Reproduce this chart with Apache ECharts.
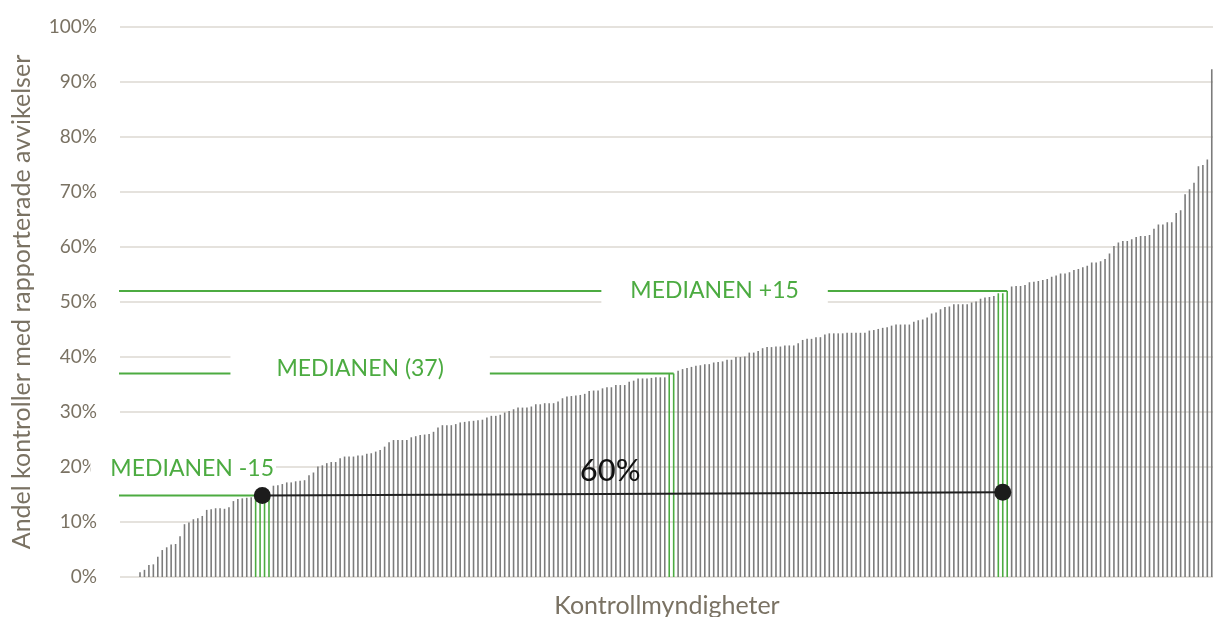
<!DOCTYPE html>
<html>
<head>
<meta charset="utf-8">
<script src="https://cdn.jsdelivr.net/npm/echarts@6/dist/echarts.min.js"></script>
<style>
  html, body { margin: 0; padding: 0; background: #fff; }
  #chart { width: 1213px; height: 617px; }
</style>
</head>
<body>
<div id="chart"></div>
<script>
// andel kontroller med avvikelser per kontrollmyndighet, sorterat stigande (%)
const shares = [
  0, 0, 0, 0,
  0.85, 1.3, 2.2, 2.3, 3.7, 4.9, 5.4, 5.9, 6.0, 7.4,
  9.6, 9.9, 10.5, 10.7, 11.1, 12.2, 12.3, 12.5, 12.5, 12.4,
  12.7, 13.8, 14.2, 14.3, 14.4, 14.5, 14.6, 14.7, 14.8, 14.9,
  16.6, 16.7, 16.9, 17.2, 17.2, 17.4, 17.5, 17.6, 18.5, 19.0,
  20.1, 20.3, 20.7, 20.9, 20.9, 21.6, 21.9, 21.9, 21.9, 22.1,
  22.1, 22.4, 22.5, 22.8, 23.1, 23.7, 24.5, 24.9, 24.9, 24.9,
  24.9, 25.4, 25.6, 25.8, 25.9, 26.0, 26.4, 27.2, 27.6, 27.6,
  27.6, 27.8, 28.1, 28.2, 28.3, 28.4, 28.5, 28.6, 29.0, 29.3,
  29.3, 29.5, 29.9, 30.2, 30.5, 30.8, 30.8, 30.8, 31.0, 31.4,
  31.4, 31.6, 31.6, 31.6, 31.9, 32.5, 32.8, 32.9, 33.0, 33.1,
  33.3, 33.8, 33.9, 33.9, 34.3, 34.5, 34.5, 34.9, 34.9, 34.9,
  35.5, 35.7, 36.1, 36.1, 36.1, 36.2, 36.3, 36.3, 36.3, 37.0,
  37.0, 37.5, 37.8, 38.0, 38.2, 38.4, 38.5, 38.7, 38.7, 39.0,
  39.1, 39.2, 39.5, 39.5, 40.0, 40.0, 40.1, 40.8, 40.8, 41.1,
  41.6, 41.8, 41.8, 41.9, 41.9, 42.1, 42.1, 42.1, 42.5, 43.1,
  43.3, 43.3, 43.6, 43.6, 44.1, 44.3, 44.3, 44.3, 44.3, 44.4,
  44.4, 44.4, 44.4, 44.4, 44.8, 44.9, 45.1, 45.3, 45.4, 45.7,
  45.9, 45.9, 45.9, 45.9, 46.4, 46.7, 46.8, 47.2, 47.9, 48.1,
  48.7, 49.1, 49.2, 49.6, 49.6, 49.6, 49.6, 49.9, 50.1, 50.6,
  50.8, 50.9, 51.1, 51.6, 51.6, 52.0, 52.8, 52.9, 52.9, 53.1,
  53.6, 53.7, 53.8, 54.0, 54.2, 54.6, 54.8, 55.2, 55.2, 55.4,
  55.8, 56.0, 56.3, 56.6, 57.2, 57.2, 57.4, 57.8, 58.8, 60.2,
  60.8, 61.1, 61.1, 61.4, 61.8, 62.0, 62.0, 62.2, 63.3, 64.1,
  64.1, 64.5, 64.5, 66.2, 66.7, 69.6, 70.5, 71.7, 74.7, 74.9,
  75.9, 92.3
];
const authorities = shares.map((v, i) => String(i + 1));
const greenBars = [30, 31, 32, 33, 123, 124, 197, 198, 199];

const yTicks = [0, 10, 20, 30, 40, 50, 60, 70, 80, 90, 100];

// medianlinjer: nivå (%) och utsträckning i kategoriindex
const medianLevels = [52, 37, 14.8];
const medianStart = [-5.4, -5.85, -7.0];
const medianEnd = [199.5, 124.5, 32.0];
const medianTexts = ['MEDIANEN +15', 'MEDIANEN (37)', 'MEDIANEN -15'];
const medianTextAt = [[133.7, 52], [54.0, 37.9], [14.2, 19.7]];

// linjen mellan -15 och +15 med punkter i ändarna
const spanPoints = [[32.0, 14.8], [198.5, 15.4]];
const spanText = '60%';
const spanTextAt = [110.2, 19.3];

const GREEN = '#4cab41';
const AXIS_TXT = '#7a7263';
const FONT = 'Lato';

const chart = echarts.init(document.getElementById('chart'));

const lineSeries = medianLevels.map((lvl, k) => ({
  type: 'line',
  xAxisIndex: 1,
  data: [[medianStart[k], lvl], [medianEnd[k], lvl]],
  symbol: 'none',
  clip: false,
  silent: true,
  z: 3,
  lineStyle: { color: GREEN, width: 2 }
}));

const labelPads = [[3, 29, 3, 29], [4, 46, 4, 46], [3, 2, 3, 20]];

const textSeries = {
  type: 'scatter',
  xAxisIndex: 1,
  symbolSize: 0,
  clip: false,
  silent: true,
  z: 5,
  itemStyle: { opacity: 1 },
  data: medianTexts.map((t, k) => ({
    name: t,
    value: medianTextAt[k],
    label: { padding: labelPads[k] }
  })),
  label: {
    show: true,
    position: 'inside',
    formatter: p => p.name,
    color: GREEN,
    fontFamily: FONT,
    fontSize: 23,
    backgroundColor: '#fff'
  }
};

const spanSeries = {
  type: 'line',
  xAxisIndex: 1,
  data: spanPoints,
  symbol: 'circle',
  symbolSize: 17,
  clip: false,
  silent: true,
  z: 6,
  lineStyle: { color: '#1f1f1f', width: 2 },
  itemStyle: { color: '#1c1c1c' }
};

const spanLabel = {
  type: 'scatter',
  xAxisIndex: 1,
  symbolSize: 0,
  silent: true,
  z: 6,
  itemStyle: { opacity: 1 },
  data: [{ name: spanText, value: spanTextAt }],
  label: {
    show: true,
    position: 'inside',
    formatter: p => p.name,
    color: '#111',
    fontFamily: FONT,
    fontSize: 31
  }
};

chart.setOption({
  animation: false,
  backgroundColor: '#fff',
  grid: { left: 120, top: 27, width: 1094, height: 550, outerBoundsMode: 'none' },
  xAxis: [
    {
      type: 'category',
      data: authorities,
      axisLine: { show: false },
      axisTick: { show: false },
      axisLabel: { show: false },
      name: 'Kontrollmyndigheter',
      nameLocation: 'middle',
      nameGap: 16,
      nameTextStyle: { color: AXIS_TXT, fontFamily: FONT, fontSize: 25, verticalAlign: 'top' }
    },
    { type: 'value', min: 0, max: shares.length, show: false }
  ],
  yAxis: {
    type: 'value',
    min: yTicks[0],
    max: yTicks[yTicks.length - 1],
    interval: 10,
    axisLine: { show: false },
    axisTick: { show: false },
    axisLabel: { formatter: '{value}%', color: AXIS_TXT, fontFamily: FONT, fontSize: 19, margin: 23 },
    splitLine: { lineStyle: { color: '#dcd9d2', width: 1.5 } },
    name: 'Andel kontroller med rapporterade avvikelser',
    nameLocation: 'middle',
    nameGap: 86,
    nameTextStyle: { color: AXIS_TXT, fontFamily: FONT, fontSize: 25 }
  },
  series: [
    {
      type: 'bar',
      data: shares.map((v, i) => greenBars.includes(i)
        ? { value: v, itemStyle: { color: GREEN } }
        : v),
      barWidth: 1.6,
      silent: true,
      itemStyle: { color: '#7c7c7c' },
      z: 2
    },
    ...lineSeries,
    spanSeries,
    textSeries,
    spanLabel
  ]
});
</script>
</body>
</html>
